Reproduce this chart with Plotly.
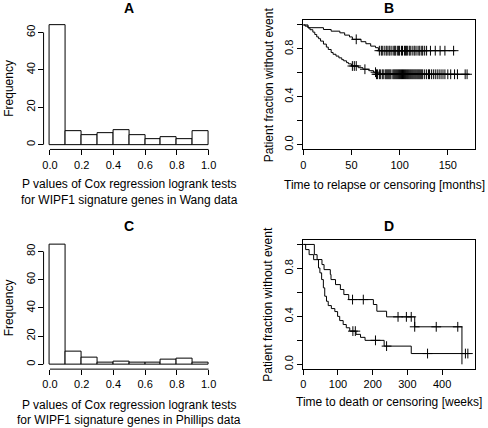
import plotly.graph_objects as go

# ---------------- data ----------------
bin_centers = [0.05, 0.15, 0.25, 0.35, 0.45, 0.55, 0.65, 0.75, 0.85, 0.95]
wang_counts = [64, 7, 5, 6, 8, 5, 3, 4, 3, 7]
phillips_counts = [85, 9, 5, 1, 2, 1, 1, 3, 4, 1]

# Panel B: Kaplan-Meier (months)
b_high_t = [0, 5, 21, 29, 38, 43, 48, 51, 60, 65, 70, 75, 78]
b_high_s = [1.0, 0.977, 0.962, 0.948, 0.934, 0.915, 0.9, 0.88, 0.86, 0.843, 0.823, 0.81, 0.785]
b_high_end = 158
b_high_cens = [55, 79, 81, 82, 84, 86, 87, 89, 90, 92, 94, 95, 96, 98, 99, 100, 102, 103, 105,
               106, 107, 108, 110, 111, 113, 115, 116, 118, 120, 121, 123, 124, 126, 128, 132,
               137, 142, 147, 156]

b_low_t = [0, 2, 5, 7, 10, 12, 14, 16, 18, 21, 24, 26, 29, 31, 34, 37, 40, 42, 45, 47, 50, 57, 62, 68, 73, 76]
b_low_s = [1.0, 0.99, 0.975, 0.96, 0.94, 0.92, 0.9, 0.885, 0.865, 0.84, 0.815, 0.795, 0.77, 0.755,
           0.74, 0.725, 0.71, 0.7, 0.685, 0.675, 0.657, 0.643, 0.63, 0.618, 0.605, 0.588]
b_low_end = 172
b_low_cens = [51, 53, 55, 64, 75, 76, 77, 79, 80, 82, 83, 85, 86, 87, 88, 89, 90, 91, 93,
              94, 95, 96, 97, 98, 99, 100, 101, 102, 103, 104, 105, 106, 107, 108, 109, 110, 111,
              112, 113, 114, 115, 116, 117, 118, 119, 120, 121, 122, 123, 124, 126, 128, 130, 131,
              133, 135, 137, 139, 141, 143, 145, 147, 150, 153, 157, 160, 168, 170]

# Panel D: Kaplan-Meier (weeks)
d_high_t = [0, 32, 40, 54, 60, 78, 80, 93, 107, 117, 131, 202, 212, 240, 321, 457]
d_high_s = [1.0, 0.915, 0.874, 0.832, 0.79, 0.75, 0.707, 0.665, 0.624, 0.582, 0.54, 0.499,
            0.443, 0.396, 0.313, 0.0]
d_high_end = 457
d_high_cens = [142, 173, 273, 297, 311, 321, 383, 445]

d_low_t = [0, 7, 17, 30, 44, 48, 53, 58, 62, 67, 72, 81, 91, 99, 105, 115, 124, 134, 152, 165,
           178, 233, 311]
d_low_s = [1.0, 0.957, 0.915, 0.873, 0.804, 0.763, 0.707, 0.638, 0.568, 0.526, 0.49, 0.465,
           0.44, 0.40, 0.365, 0.332, 0.305, 0.277, 0.25, 0.225, 0.2, 0.152, 0.09]
d_low_end = 475
d_low_cens = [143, 150, 208, 240, 358, 467, 474]

hist_ticks = [0.0, 0.2, 0.4, 0.6, 0.8, 1.0]
hist_ticktext = ["0.0", "0.2", "0.4", "0.6", "0.8", "1.0"]
surv_ticks = [0.0, 0.2, 0.4, 0.6, 0.8, 1.0]
surv_ticktext = ["0.0", "", "0.4", "", "0.8", ""]

# ---------------- layout helpers ----------------
W, H = 488, 428
FONT = "Liberation Sans, Arial, sans-serif"


def fx(px):
    return px / W


def fy(py):
    return 1 - py / H


def surv_at(ts, ss, t):
    v = ss[0]
    for ti, si in zip(ts, ss):
        if ti <= t:
            v = si
    return v


fig = go.Figure()

# Histograms
fig.add_trace(go.Bar(x=bin_centers, y=wang_counts, width=0.1,
                     marker=dict(color="white", line=dict(color="black", width=1)),
                     xaxis="x", yaxis="y", showlegend=False))
fig.add_trace(go.Bar(x=bin_centers, y=phillips_counts, width=0.1,
                     marker=dict(color="white", line=dict(color="black", width=1)),
                     xaxis="x3", yaxis="y3", showlegend=False))


def add_km(ts, ss, end, cens, xa, ya):
    fig.add_trace(go.Scatter(x=list(ts) + [end], y=list(ss) + [ss[-1]], mode="lines",
                             line=dict(color="black", width=1, shape="hv"),
                             xaxis=xa, yaxis=ya, showlegend=False, hoverinfo="skip"))
    fig.add_trace(go.Scatter(x=cens, y=[surv_at(ts, ss, c) for c in cens], mode="markers",
                             marker=dict(symbol="cross-thin", size=7,
                                         line=dict(color="black", width=1)),
                             xaxis=xa, yaxis=ya, showlegend=False, hoverinfo="skip"))


add_km(b_high_t, b_high_s, b_high_end, b_high_cens, "x2", "y2")
add_km(b_low_t, b_low_s, b_low_end, b_low_cens, "x2", "y2")
add_km(d_high_t, d_high_s, d_high_end, d_high_cens, "x4", "y4")
add_km(d_low_t, d_low_s, d_low_end, d_low_cens, "x4", "y4")

tickfont = dict(family=FONT, size=11, color="black")
common = dict(showgrid=False, zeroline=False, ticks="outside", ticklen=5, tickwidth=1,
              tickcolor="black", tickfont=tickfont)

LX = [40.9, 213.7]
RX = [302.7, 475.7]
TY = [20.2, 149.8]
BY = [240.2, 370.0]

layout = dict(
    width=W, height=H, margin=dict(l=0, r=0, t=0, b=0), autosize=False,
    paper_bgcolor="white", plot_bgcolor="white", bargap=0,
    font=dict(family=FONT, size=12, color="black"),
    xaxis=dict(domain=[fx(LX[0]), fx(LX[1])], range=[-0.04, 1.04], anchor="y",
               tickvals=hist_ticks, ticktext=hist_ticktext, showline=False, **common),
    yaxis=dict(domain=[fy(TY[1]), fy(TY[0])], range=[-2.56, 66.56], anchor="x",
               tickvals=[0, 20, 40, 60], tickangle=-90, showline=False,
               ticklabelstandoff=-2, **common),
    xaxis2=dict(domain=[fx(RX[0]), fx(RX[1])], range=[0, 178], anchor="y2",
                tickvals=[0, 50, 100, 150], showline=True, mirror=True, linecolor="black",
                linewidth=1, **common),
    yaxis2=dict(domain=[fy(TY[1]), fy(TY[0])], range=[-0.04, 1.04], anchor="x2",
                tickvals=surv_ticks, ticktext=surv_ticktext, tickangle=-90, showline=True,
                mirror=True, linecolor="black", linewidth=1, **common),
    xaxis3=dict(domain=[fx(LX[0]), fx(LX[1])], range=[-0.04, 1.04], anchor="y3",
                tickvals=hist_ticks, ticktext=hist_ticktext, showline=False, **common),
    yaxis3=dict(domain=[fy(BY[1]), fy(BY[0])], range=[-3.4, 88.4], anchor="x3",
                tickvals=[0, 20, 40, 60, 80], tickangle=-90, showline=False,
                ticklabelstandoff=-2, **common),
    xaxis4=dict(domain=[fx(RX[0]), fx(RX[1])], range=[0, 494], anchor="y4",
                tickvals=[0, 100, 200, 300, 400], showline=True, mirror=True, linecolor="black",
                linewidth=1, **common),
    yaxis4=dict(domain=[fy(BY[1]), fy(BY[0])], range=[-0.04, 1.04], anchor="x4",
                tickvals=surv_ticks, ticktext=surv_ticktext, tickangle=-90, showline=True,
                mirror=True, linecolor="black", linewidth=1, **common),
)
fig.update_layout(**layout)

# axis line segments for histogram panels (R-style detached axes)
for xa, ya, ytop in [("x", "y", 60), ("x3", "y3", 80)]:
    fig.add_shape(type="line", xref=xa + " domain", yref=ya, x0=0, x1=0, y0=0, y1=ytop,
                  line=dict(color="black", width=1))
    fig.add_shape(type="line", xref=xa, yref=ya + " domain", x0=0, x1=1, y0=0, y1=0,
                  line=dict(color="black", width=1))


def text(s, x, y, size=12, bold=False, angle=0):
    fig.add_annotation(text=("<b>%s</b>" % s) if bold else s, x=fx(x), y=fy(y),
                       xref="paper", yref="paper", showarrow=False, xanchor="center",
                       yanchor="middle", textangle=angle,
                       font=dict(family=FONT, size=size, color="black"))


text("A", 127.3, 8, size=14, bold=True)
text("B", 389.2, 8, size=14, bold=True)
text("C", 127.3, 227, size=14, bold=True)
text("D", 389.2, 227, size=14, bold=True)

text("P values of Cox regression logrank tests", 127.3, 184.3)
text("for WIPF1 signature genes in Wang data", 127.3, 200)
text("P values of Cox regression logrank tests", 127.3, 406)
text("for WIPF1 signature genes in Phillips data", 127.3, 421)
text("Time to relapse or censoring [months]", 385, 185.3)
text("Time to death or censoring [weeks]", 389, 403)

text("Frequency", 6, 88, angle=-90)
text("Frequency", 6, 308, angle=-90)
text("Patient fraction without event", 267.7, 85, angle=-90)
text("Patient fraction without event", 267.7, 305, angle=-90)

fig.write_html("out.html", post_script="document.body.style.margin='0';",
               config={"displayModeBar": False})
